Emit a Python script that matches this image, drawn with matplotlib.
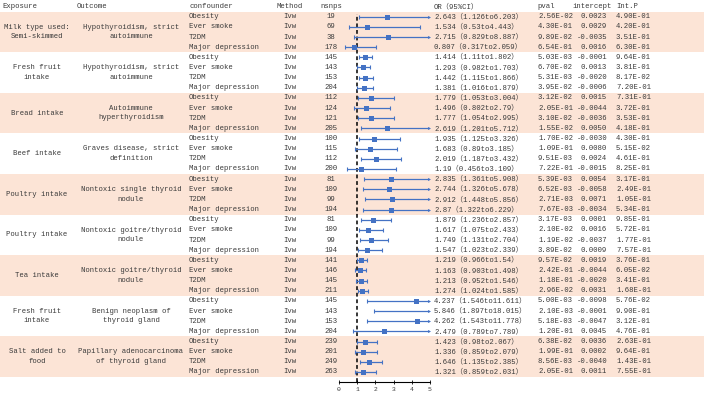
import numpy as np
import matplotlib
matplotlib.use("Agg")
import matplotlib.pyplot as plt

exposures = ["Milk type used:\nSemi-skimmed", "Fresh fruit\nintake", "Bread intake",
             "Beef intake", "Poultry intake", "Poultry intake", "Tea intake",
             "Fresh fruit\nintake", "Salt added to\nfood"]
outcomes = ["Hypothyroidism, strict\nautoimmune", "Hypothyroidism, strict\nautoimmune",
            "Autoimmune\nhyperthyroidism", "Graves disease, strict\ndefinition",
            "Nontoxic single thyroid\nnodule", "Nontoxic goitre/thyroid\nnodule",
            "Nontoxic goitre/thyroid\nnodule", "Benign neoplasm of\nthyroid gland",
            "Papillary adenocarcinoma\nof thyroid gland"]
confounders = ["Obesity", "Ever smoke", "T2DM", "Major depression"]

nsnps = [19, 69, 38, 178, 145, 143, 153, 204, 112, 124, 121, 205,
         100, 115, 112, 200, 81, 109, 99, 194, 81, 109, 99, 194,
         141, 146, 145, 211, 145, 143, 153, 204, 239, 201, 249, 263]
or_est = [2.643, 1.534, 2.715, 0.807, 1.414, 1.293, 1.442, 1.381,
          1.779, 1.496, 1.777, 2.619, 1.935, 1.683, 2.019, 1.19,
          2.835, 2.744, 2.912, 2.87, 1.879, 1.617, 1.749, 1.547,
          1.219, 1.163, 1.213, 1.274, 4.237, 5.846, 4.262, 2.479,
          1.423, 1.336, 1.646, 1.321]
or_lo = [1.126, 0.53, 0.829, 0.317, 1.11, 0.982, 1.115, 1.016,
         1.053, 0.802, 1.054, 1.201, 1.125, 0.89, 1.187, 0.456,
         1.361, 1.326, 1.448, 1.322, 1.236, 1.075, 1.131, 1.023,
         0.966, 0.903, 0.952, 1.024, 1.546, 1.897, 1.543, 0.789,
         0.98, 0.859, 1.135, 0.859]
or_hi = [6.203, 4.443, 8.887, 2.059, 1.802, 1.703, 1.866, 1.879,
         3.004, 2.79, 2.995, 5.712, 3.326, 3.185, 3.432, 3.109,
         5.908, 5.678, 5.856, 6.229, 2.857, 2.433, 2.704, 2.339,
         1.54, 1.498, 1.546, 1.585, 11.611, 18.015, 11.778, 7.789,
         2.067, 2.079, 2.385, 2.031]
pval = ["2.56E-02", "4.30E-01", "9.89E-02", "6.54E-01", "5.03E-03", "6.70E-02",
        "5.31E-03", "3.95E-02", "3.12E-02", "2.05E-01", "3.10E-02", "1.55E-02",
        "1.70E-02", "1.09E-01", "9.51E-03", "7.22E-01", "5.39E-03", "6.52E-03",
        "2.71E-03", "7.67E-03", "3.17E-03", "2.10E-02", "1.19E-02", "3.89E-02",
        "9.57E-02", "2.42E-01", "1.18E-01", "2.96E-02", "5.00E-03", "2.10E-03",
        "5.18E-03", "1.20E-01", "6.38E-02", "1.99E-01", "8.56E-03", "2.05E-01"]
intercept = ["0.0023", "0.0029", "-0.0035", "0.0016", "-0.0001", "0.0013",
             "-0.0020", "-0.0006", "0.0015", "-0.0044", "-0.0036", "0.0050",
             "-0.0030", "0.0080", "0.0024", "-0.0015", "0.0054", "-0.0058",
             "0.0071", "-0.0034", "0.0001", "0.0016", "-0.0037", "0.0009",
             "0.0019", "-0.0044", "-0.0020", "0.0031", "-0.0098", "-0.0001",
             "-0.0047", "0.0045", "0.0036", "0.0002", "-0.0040", "0.0011"]
int_p = ["4.90E-01", "4.20E-01", "3.51E-01", "6.30E-01", "9.64E-01", "3.81E-01",
         "8.17E-02", "7.20E-01", "7.31E-01", "3.72E-01", "3.53E-01", "4.18E-01",
         "4.30E-01", "5.15E-02", "4.61E-01", "8.25E-01", "3.17E-01", "2.49E-01",
         "1.05E-01", "5.34E-01", "9.85E-01", "5.72E-01", "1.77E-01", "7.57E-01",
         "3.76E-01", "6.05E-02", "3.41E-01", "1.68E-01", "5.76E-02", "9.90E-01",
         "3.12E-01", "4.76E-01", "2.63E-01", "9.64E-01", "1.43E-01", "7.55E-01"]

W, H = 709, 394
row0, rowh = 16.7, 10.15
n = len(nsnps)
rows = np.arange(n)
shade = "#fce4d6"
tcol = "#3a3a3a"
blue = "#4472c4"
fs = 5.2
fams = ["Liberation Mono", "Noto Sans CJK SC"]

def row_of(py):
    return (py - row0) / rowh

fig = plt.figure(figsize=(W / 100, H / 100), dpi=100)
tab = fig.add_axes([0, 0, 1, 1])
tab.set_xlim(0, W)
tab.set_ylim(row_of(H), row_of(0))
tab.axis("off")

# alternating group bands
for g in range(len(exposures)):
    if g % 2 == 0:
        tab.fill_between([0, 704], g * 4 - 0.5, g * 4 + 3.5, color=shade, lw=0, zorder=0)

kw = dict(fontsize=fs, family=fams, color=tcol, va="center")
hy = row_of(6.5)
tab.text(2, hy, "Exposure", ha="left", **kw)
tab.text(77, hy, "Outcome", ha="left", **kw)
tab.text(189, hy, "confounder", ha="left", **kw)
tab.text(290, hy, "Method", ha="center", **kw)
tab.text(331, hy, "nsnps", ha="center", **kw)
tab.text(434, hy, "OR（95%CI）", ha="left", **kw)
tab.text(537, hy, "pval", ha="left", **kw)
tab.text(612, hy, "intercept", ha="right", **kw)
tab.text(616, hy, "Int.P", ha="left", **kw)

for g in range(len(exposures)):
    yc = g * 4 + 1.5
    tab.text(37, yc, exposures[g], ha="center", linespacing=1.5, **kw)
    tab.text(131, yc, outcomes[g], ha="center", linespacing=1.5, **kw)

for i in rows:
    tab.text(189, i, confounders[i % 4], ha="left", **kw)
    tab.text(290, i, "Ivw", ha="center", **kw)
    tab.text(331, i, str(nsnps[i]), ha="center", **kw)
    tab.text(434, i, f"{or_est[i]}（{or_lo[i]}to{or_hi[i]}）", ha="left", **kw)
    tab.text(538, i, pval[i], ha="left", **kw)
    tab.text(607, i, intercept[i], ha="right", **kw)
    tab.text(616, i, int_p[i], ha="left", **kw)

# forest plot
x0, x5 = 339, 430
ytop, ybot = 14, 382
ax = fig.add_axes([x0 / W, 1 - ybot / H, (x5 - x0) / W, (ybot - ytop) / H])
ax.set_facecolor("none")
ax.set_xlim(0, 5)
ax.set_ylim(row_of(ybot), row_of(ytop))
for s in ["top", "right", "left"]:
    ax.spines[s].set_visible(False)
ax.spines["bottom"].set_linewidth(0.8)
ax.set_yticks([])
ax.set_xticks(range(6))
ax.tick_params(axis="x", direction="inout", length=3, width=0.6, labelsize=4.6,
               pad=2, labelcolor=tcol)
for lab in ax.get_xticklabels():
    lab.set_family(fams)
ax.axvline(1, color="black", lw=1.1, ls=(0, (2.5, 1.8)), zorder=1)

est = np.array(or_est)
lo = np.array(or_lo)
hi = np.array(or_hi)
hic = np.minimum(hi, 5)
ax.hlines(rows, lo, hic, color=blue, lw=0.9, zorder=2)
ax.plot(lo, rows, "|", color=blue, ms=3, mew=0.8, zorder=2)
ok = hi <= 5
ax.plot(hi[ok], rows[ok], "|", color=blue, ms=3, mew=0.8, zorder=2)
ax.plot(np.full((~ok).sum(), 4.97), rows[~ok], ">", color=blue, ms=2.2, mew=0, zorder=2,
        clip_on=False)
ax.plot(est, rows, "s", color=blue, ms=3.6, mew=0, zorder=3)

fig.savefig("out.png", dpi=100)
